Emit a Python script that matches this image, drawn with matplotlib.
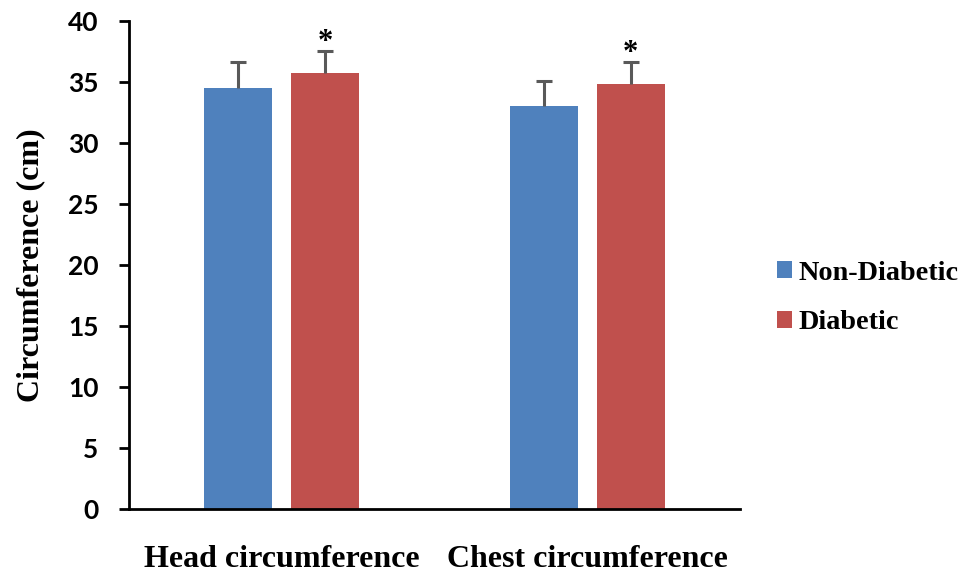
import numpy as np
import matplotlib.pyplot as plt
from matplotlib.patches import Patch

categorias = ['Head circumference', 'Chest circumference']
no_diabetico = [34.5, 33.0]
no_diabetico_err = [2.1, 2.1]
diabetico = [35.75, 34.8]
diabetico_err = [1.8, 1.8]
significativo = ['*', '*']

azul = '#4F81BD'
rojo = '#C0504D'
gris = '#595959'

serif = ['Liberation Serif', 'DejaVu Serif']
sans = ['Lato', 'DejaVu Sans']

fig = plt.figure(figsize=(9.61, 5.73), dpi=100)
ax = fig.add_axes([129 / 961, (573 - 509) / 573, (740 - 129) / 961, (509 - 21) / 573])

x = np.arange(len(categorias))
ancho = 0.223
desp = 0.142

ax.bar(x - desp, no_diabetico, ancho, color=azul, zorder=2)
ax.bar(x + desp, diabetico, ancho, color=rojo, zorder=2)

# solo la mitad superior de las barras de error
for xs, vals, errs in [(x - desp, no_diabetico, no_diabetico_err),
                       (x + desp, diabetico, diabetico_err)]:
    _, caps, _ = ax.errorbar(xs, vals, yerr=[np.zeros(2), errs], fmt='none',
                             ecolor=gris, elinewidth=2.2, capsize=6, capthick=2.2, zorder=3)
    caps[0].set_visible(False)

for xi, v, e, s in zip(x + desp, diabetico, diabetico_err, significativo):
    ax.text(xi, v + e + 0.7, s, ha='center', va='center', fontsize=22,
            fontweight='bold', family=serif)

ax.set_xlim(-0.5, 1.5)
ax.set_ylim(0, 40)
ax.set_yticks(np.arange(0, 41, 5))
ax.set_xticks(x)
ax.set_xticklabels(categorias, fontsize=23, fontweight='bold', family=serif)
ax.tick_params(axis='x', length=0, pad=26)
ax.tick_params(axis='y', direction='out', length=7, width=2, pad=15)
for lab in ax.get_yticklabels():
    lab.set_family(sans)
    lab.set_fontweight('bold')
    lab.set_fontsize(19)

for lado in ['top', 'right']:
    ax.spines[lado].set_visible(False)
for lado in ['left', 'bottom']:
    ax.spines[lado].set_linewidth(2)
    ax.spines[lado].set_color('black')

ax.set_ylabel('Circumference (cm)', fontsize=23, fontweight='bold', family=serif, labelpad=16)

manejadores = [Patch(facecolor=azul, label='Non-Diabetic'),
               Patch(facecolor=rojo, label='Diabetic')]
fig.legend(handles=manejadores, loc='center left', bbox_to_anchor=(777 / 961, 1 - 298 / 573),
           frameon=False, borderpad=0, borderaxespad=0, handlelength=0.52, handleheight=0.52,
           handletextpad=0.24, labelspacing=0.88,
           prop={'family': serif, 'weight': 'bold', 'size': 20.3})

fig.savefig('out.png', dpi=100)
plt.close()
